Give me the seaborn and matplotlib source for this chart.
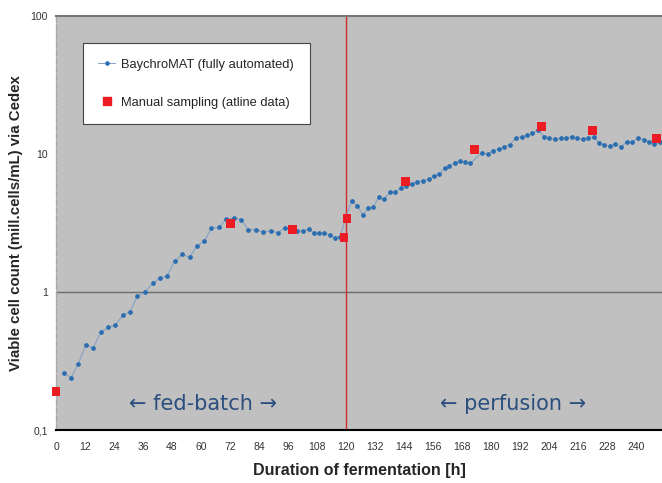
import pandas as pd
import matplotlib
matplotlib.use("Agg")
import matplotlib.pyplot as plt
import seaborn as sns
from matplotlib.lines import Line2D
from matplotlib.ticker import FixedLocator, NullLocator

# BaychroMAT online data (hours, mill. cells/mL)
auto_h = [3.3, 6.2, 9.1, 12.4, 15.4, 18.5, 21.6, 24.5, 27.6, 30.6, 33.6, 36.8, 40.0,
          43.0, 46.0, 49.1, 52.3, 55.3, 58.3, 61.4, 64.3, 67.4, 70.5, 73.6, 76.7,
          79.6, 82.7, 85.8, 88.8, 91.8, 94.9, 99.8, 102.3, 104.6, 106.7, 108.9, 111.0,
          113.4, 115.6, 117.5, 122.3, 124.7, 127.0, 129.0, 131.2, 133.5, 135.7, 138.1,
          140.4, 142.6, 145.0, 147.2, 149.5, 152.0, 154.2, 156.4, 158.7, 160.8, 162.7,
          165.0, 167.1, 169.3, 171.4, 176.3, 178.6, 180.9, 183.2, 185.5, 187.8, 190.3,
          192.7, 195.0, 197.2, 199.4, 202.0, 204.1, 206.5, 208.8, 211.1, 213.4, 215.6,
          217.9, 220.2, 222.6, 224.7, 227.0, 229.2, 231.4, 233.9, 236.3, 238.4, 240.9,
          243.3, 245.5, 247.6, 250.0]
auto_v = [0.26, 0.239, 0.30, 0.413, 0.391, 0.513, 0.555, 0.574, 0.681, 0.72, 0.93, 1.0, 1.16,
          1.26, 1.31, 1.67, 1.88, 1.78, 2.17, 2.33, 2.91, 2.94, 3.38, 3.45, 3.34,
          2.83, 2.83, 2.73, 2.77, 2.69, 2.92, 2.77, 2.77, 2.85, 2.68, 2.66, 2.68,
          2.59, 2.47, 2.52, 4.57, 4.2, 3.63, 4.04, 4.13, 4.85, 4.7, 5.28,
          5.33, 5.64, 5.86, 6.09, 6.3, 6.41, 6.56, 6.89, 7.12, 7.96, 8.15,
          8.61, 8.9, 8.71, 8.57, 10.2, 9.95, 10.6, 10.9, 11.2, 11.7, 13.1,
          13.3, 13.7, 14.1, 14.9, 13.4, 13.1, 12.8, 13.0, 13.1, 13.4, 13.1,
          12.8, 13.1, 13.4, 12.0, 11.6, 11.4, 11.8, 11.3, 12.3, 12.2, 13.1,
          12.7, 12.3, 11.9, 12.2]

# manual (atline) samples
manual_h = [0, 72.1, 97.9, 119.2, 120.4, 144.5, 173.1, 200.8, 221.9, 248.4]
manual_v = [0.19, 3.13, 2.83, 2.5, 3.42, 6.34, 10.8, 15.9, 14.9, 13.0]

df_auto = pd.DataFrame({'h': auto_h, 'v': auto_v})
df_man = pd.DataFrame({'h': manual_h, 'v': manual_v})

sns.set_style("white")
plt.rcParams['font.family'] = ['Liberation Sans', 'DejaVu Sans']

fig = plt.figure(figsize=(6.62, 4.83), dpi=100)
ax = fig.add_axes([0.0846, 0.1097, 1 - 0.0846, 0.857])
ax.set_facecolor('#c0c0c0')

sns.lineplot(data=df_auto, x='h', y='v', ax=ax, color='#8aa4c2', lw=0.9,
             marker='o', markersize=2.6, markerfacecolor='#2a6db0',
             markeredgecolor='#2a6db0', zorder=3)
sns.scatterplot(data=df_man, x='h', y='v', ax=ax, marker='s', s=40,
                color='#ec1c24', edgecolor='none', zorder=4, clip_on=False)

ax.set_yscale('log')
ax.set_ylim(0.1, 100)
ax.set_xlim(0, 250.8)
ax.axhline(1, color='#6e6e6e', lw=1, zorder=1)
ax.axvline(120, color='#d42a2a', lw=1, zorder=2)

ax.xaxis.set_major_locator(FixedLocator(range(0, 241, 12)))
ax.yaxis.set_major_locator(FixedLocator([0.1, 1, 10, 100]))
ax.yaxis.set_minor_locator(NullLocator())
ax.set_yticklabels(['0,1', '1', '10', '100'])
ax.tick_params(axis='x', direction='inout', length=5, width=1.5, color='black',
               labelsize=7.5, labelcolor='#333333', pad=6)
ax.tick_params(axis='y', direction='out', length=3, width=1.2, color='black',
               labelsize=7.5, labelcolor='#333333', pad=3)

ax.spines['right'].set_visible(False)
ax.spines['top'].set_color('#777777')
ax.spines['top'].set_linewidth(1.5)
ax.spines['bottom'].set_color('black')
ax.spines['bottom'].set_linewidth(1.5)
ax.spines['left'].set_color('#a8a8a8')
ax.spines['left'].set_linestyle((0, (4, 2)))
ax.spines['left'].set_linewidth(1)

ax.set_xlabel('Duration of fermentation [h]', fontsize=11.5, fontweight='bold',
              labelpad=8)
ax.set_ylabel('Viable cell count (mill.cells/mL) via Cedex', fontsize=10.8,
              fontweight='bold', labelpad=5)

ax.text(61, 0.155, '\u2190 fed-batch \u2192', fontsize=15, color='#2a4f7f',
        ha='center', va='center', family=['DejaVu Sans'])
ax.text(189, 0.155, '\u2190 perfusion \u2192', fontsize=15, color='#2a4f7f',
        ha='center', va='center', family=['DejaVu Sans'])

handles = [Line2D([], [], color='#8aa4c2', lw=0.8, marker='o', markersize=2.3,
                  markerfacecolor='#2a6db0', markeredgecolor='#2a6db0'),
           Line2D([], [], ls='none', marker='s', markersize=6, color='#ec1c24')]
leg = ax.legend(handles, ['BaychroMAT (fully automated)', 'Manual sampling (atline data)'],
                loc='upper left', bbox_to_anchor=(0.044, 0.934), fontsize=9.3,
                frameon=True, fancybox=False, edgecolor='#444444', framealpha=1,
                labelspacing=2.0, borderpad=1.2, handlelength=1.3, handletextpad=0.5,
                borderaxespad=0)
leg.get_frame().set_linewidth(0.8)

fig.savefig('out.png', dpi=100)
